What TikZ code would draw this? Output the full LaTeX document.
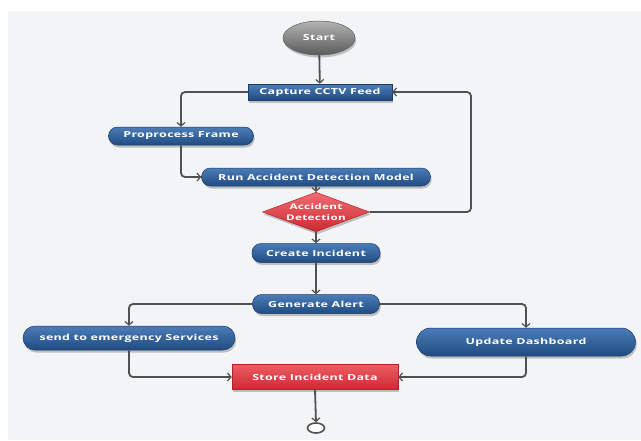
\documentclass[tikz,border=0pt]{standalone}
\usepackage{fontspec}
\usetikzlibrary{shapes.geometric,shadows,arrows.meta,calc}
\newfontfamily\lblfont[FakeStretch=1.5,LetterSpace=4]{Open Sans}

\definecolor{bgpanel}{HTML}{F3F4F6}
\definecolor{bluetop}{HTML}{4C7DB8}
\definecolor{bluebot}{HTML}{1F4B80}
\definecolor{blueedge}{HTML}{1A3C66}
\definecolor{redtop}{HTML}{EE5C62}
\definecolor{redbot}{HTML}{CC2A33}
\definecolor{rededge}{HTML}{B0222A}
\definecolor{graytop}{HTML}{B4B4B4}
\definecolor{graybot}{HTML}{5A5A5A}
\definecolor{wire}{HTML}{505050}

\tikzset{
  x=1pt, y=-1pt,
  lbl/.style={font=\lblfont\bfseries\fontsize{8.3}{9}\selectfont, text=white, inner sep=0pt},
  softshadow/.style={drop shadow={shadow xshift=1.2pt, shadow yshift=-2.5pt, opacity=0.22, fill=black}},
  bluebox/.style={lbl, rectangle, draw=blueedge, line width=0.5pt,
    top color=bluetop, bottom color=bluebot, softshadow},
  pill/.style={bluebox, rounded corners=#1},
  pill/.default=9pt,
  redbox/.style={lbl, rectangle, draw=rededge, line width=0.5pt,
    top color=redtop, bottom color=redbot, softshadow},
  decision/.style={lbl, diamond, aspect=2.7, draw=rededge, line width=0.5pt,
    top color=redtop!90!white, bottom color=redbot, softshadow, align=center},
  terminal/.style={lbl, ellipse, draw=graybot, line width=0.5pt,
    top color=graytop, bottom color=graybot, softshadow},
  endmark/.style={ellipse, draw=wire, line width=1.6pt, fill=white,
    minimum width=17pt, minimum height=10pt, inner sep=0pt},
  flow/.style={draw=wire, line width=1.8pt, rounded corners=4pt,
    -{Straight Barb[length=3.5pt,width=8pt,line width=1.2pt]}},
}

\begin{document}
\begin{tikzpicture}
  % page and panel
  \useasboundingbox (0,0) rectangle (641,440);
  \fill[white] (0,0) rectangle (641,440);
  \fill[bgpanel] (8,11) rectangle (641,440);

  % nodes
  \node[terminal, minimum width=72pt, minimum height=34pt] (start) at (319,38) {Start};
  \node[bluebox, minimum width=144pt, minimum height=16pt] (capture) at (320,92) {Capture CCTV Feed};
  \node[pill, minimum width=145pt, minimum height=18pt] (pre) at (181,136) {Proprocess Frame};
  \node[pill, minimum width=229pt, minimum height=18pt] (run) at (316,177) {Run Accident Detection Model};
  \node[decision, minimum width=100pt, minimum height=37pt,
        font=\lblfont\bfseries\fontsize{7.8}{11.5}\selectfont] (dec) at (316,212) {Accident\\Detection};
  \node[pill, minimum width=128pt, minimum height=19pt] (create) at (316,253) {Create Incident};
  \node[pill, minimum width=127pt, minimum height=19pt] (gen) at (316,304) {Generate Alert};
  \node[pill=12pt, minimum width=212pt, minimum height=24pt] (send) at (129,338) {send to emergency Services};
  \node[pill=14pt, minimum width=219pt, minimum height=28pt] (upd) at (526,342) {Update Dashboard};
  \node[redbox, minimum width=166pt, minimum height=25pt] (store) at (315,377) {Store Incident Data};
  \node[endmark] (finish) at (316,428) {};

  % turn point of the feedback loop
  \coordinate (loop) at (471,212);

  % connectors
  \draw[flow] (start) -- (capture);
  \draw[flow] (capture.west) -| (pre.north);
  \draw[flow] (pre.south) |- (run.west);
  \draw[flow] (run.south) -- (dec.north);
  \draw[flow] (dec.east) -- (loop) |- (capture.east);
  \draw[flow] (dec.south) -- (create.north);
  \draw[flow] (create.south) -- (gen.north);
  \draw[flow] (gen.west) -| (send.north);
  \draw[flow] (gen.east) -| (upd.north);
  \draw[flow] (send.south) |- (store.west);
  \draw[flow] (upd.south) |- (store.east);
  \draw[flow] (store.south) -- (finish.north);
\end{tikzpicture}
\end{document}
